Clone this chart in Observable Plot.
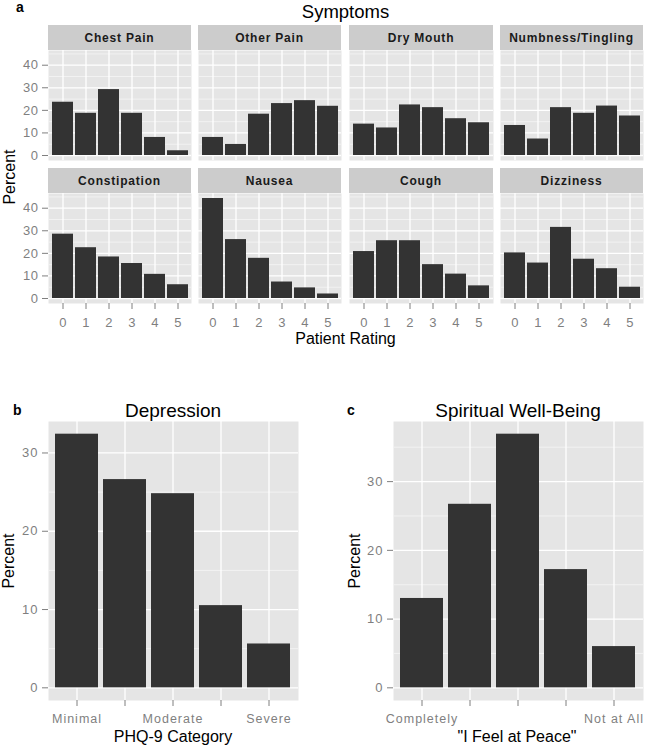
<!DOCTYPE html>
<html><head><meta charset="utf-8">
<script src="https://cdn.jsdelivr.net/npm/d3@7"></script>
<script src="https://cdn.jsdelivr.net/npm/@observablehq/plot@0.6"></script>
<style>
body{margin:0;background:#fff;font-family:"Liberation Sans",Arial,sans-serif;}
#root{position:relative;width:648px;height:750px;overflow:hidden;background:#fff;}
.lbl{position:absolute;white-space:nowrap;line-height:1;color:#000;}
.strip{position:absolute;background:#CCCCCC;color:#1a1a1a;font-weight:bold;font-size:12px;letter-spacing:0.8px;display:flex;align-items:center;justify-content:center;white-space:nowrap;}
.plt{position:absolute;}
.plt svg{overflow:visible;background:transparent;}
.plt text{letter-spacing:0.8px;}
</style></head><body><div id="root"></div>
<script>
// ---------- data ----------
const symptoms = ["Chest Pain","Other Pain","Dry Mouth","Numbness/Tingling","Constipation","Nausea","Cough","Dizziness"];
const ratings = [0,1,2,3,4,5];
const chestPain    = [23.6, 18.7, 29.2, 18.7, 8.0, 2.1];
const otherPain    = [8.0, 4.9, 18.3, 23.0, 24.3, 21.8];
const dryMouth     = [13.9, 12.2, 22.4, 21.2, 16.3, 14.5];
const numbness     = [13.3, 7.3, 21.2, 18.7, 21.9, 17.5];
const constipation = [28.5, 22.5, 18.4, 15.5, 10.7, 6.1];
const nausea       = [44.3, 26.1, 17.8, 7.3, 4.7, 2.0];
const cough        = [20.8, 25.6, 25.6, 15.0, 10.8, 5.6];
const dizziness    = [20.2, 15.7, 31.5, 17.4, 13.2, 5.0];
const symptomValues = [chestPain, otherPain, dryMouth, numbness, constipation, nausea, cough, dizziness];
const symptomYTicks = [0,10,20,30,40];
const symptomYMinor = [5,15,25,35,45];

const phqCategories = ["Minimal","Mild","Moderate","Moderately Severe","Severe"];
const phqTickLabels = ["Minimal","","Moderate","","Severe"];
const phqPercent = [32.4, 26.6, 24.8, 10.5, 5.6];

const peaceCategories = ["Completely","Quite a Bit","Somewhat","A Little Bit","Not at All"];
const peaceTickLabels = ["Completely","","","","Not at All"];
const peacePercent = [13.0, 26.7, 36.9, 17.2, 6.0];

const bottomYTicks = [0,10,20,30];
const bottomYMinor = [5,15,25,35];

// ---------- helpers ----------
const root = document.getElementById("root");
const FONT = "Liberation Sans, Arial, sans-serif";

function addText(txt, {x, baseline, size, anchor = "middle", bold = false, color = "#000", ls = 0}) {
  const d = document.createElement("div");
  d.className = "lbl";
  d.textContent = txt;
  d.style.fontSize = size + "px";
  d.style.fontWeight = bold ? "bold" : "normal";
  d.style.color = color;
  d.style.letterSpacing = ls + "px";
  d.style.top = (baseline - size * 0.8465) + "px";
  d.style.left = x + "px";
  if (anchor === "middle") d.style.transform = "translateX(-50%)";
  root.appendChild(d);
}
function addRotated(txt, {cx, cy, size}) {
  const d = document.createElement("div");
  d.className = "lbl";
  d.textContent = txt;
  d.style.fontSize = size + "px";
  d.style.left = cx + "px";
  d.style.top = cy + "px";
  d.style.transform = "translate(-50%,-50%) rotate(-90deg)";
  root.appendChild(d);
}
function addStrip(txt, left, top, w, h) {
  const d = document.createElement("div");
  d.className = "strip";
  d.textContent = txt;
  Object.assign(d.style, {left: left + "px", top: top + "px", width: w + "px", height: h + "px"});
  root.appendChild(d);
}

function panel({data, domain, yDomain, yTicks, yMinor, tickFormat, showX, showY, left, top, w, h, paddingOuter, xFont, xLs}) {
  const mL = showY ? 48 : 1, mB = showX ? 36 : 1, mT = 1, mR = 1;
  const marks = [
    Plot.frame({fill: "#E5E5E5", stroke: "none"}),
    Plot.ruleY(yMinor.filter(v => v >= yDomain[0] && v <= yDomain[1]), {stroke: "#F2F2F2", strokeWidth: 1}),
    Plot.ruleY(yTicks, {stroke: "#ffffff", strokeWidth: 1.3}),
    Plot.gridX({stroke: "#ffffff", strokeOpacity: 1, strokeWidth: 1.3}),
    Plot.barY(data, {x: "x", y: "y", fill: "#333333"})
  ];
  if (showY) marks.push(Plot.axisY({ticks: yTicks, tickSize: 6, tickPadding: 4, color: "#7f7f7f", fontSize: 13, label: null}));
  if (showX) marks.push(Plot.axisX({tickSize: 6, tickPadding: 8, color: "#7f7f7f", fontSize: xFont, label: null, tickFormat}));
  const svg = Plot.plot({
    width: w + mL + mR,
    height: h + mT + mB,
    marginLeft: mL, marginRight: mR, marginTop: mT, marginBottom: mB,
    style: {fontFamily: FONT, background: "transparent", overflow: "visible"},
    x: {type: "band", domain, paddingInner: 0.1, paddingOuter, axis: null},
    y: {domain: yDomain, axis: null},
    marks
  });
  const wrap = document.createElement("div");
  wrap.className = "plt";
  wrap.style.left = (left - mL) + "px";
  wrap.style.top = (top - mT) + "px";
  if (xLs != null) svg.querySelectorAll("text").forEach(t => t.style.letterSpacing = xLs + "px");
  wrap.appendChild(svg);
  root.appendChild(wrap);
}

// ---------- panel a: symptoms ----------
const colLeft = [48, 198, 349, 500];
const colW = [143, 143, 144, 143];
const stripTop = [25, 168];
const plotTop = [50, 193];
const plotH = 110;
const symMax = d3.max(symptomValues.flat());
const symDomain = [-0.05 * symMax, 1.05 * symMax];

symptoms.forEach((name, i) => {
  const row = Math.floor(i / 4), col = i % 4;
  addStrip(name, colLeft[col], stripTop[row], colW[col], 25);
  panel({
    data: ratings.map((r, j) => ({x: r, y: symptomValues[i][j]})),
    domain: ratings,
    yDomain: symDomain,
    yTicks: symptomYTicks,
    yMinor: symptomYMinor,
    tickFormat: d => String(d),
    showX: row === 1,
    showY: col === 0,
    left: colLeft[col], top: plotTop[row], w: colW[col], h: plotH,
    paddingOuter: 0.08, xFont: 13, xLs: 0.5
  });
});

addText("a", {x: 16, baseline: 12, size: 14, anchor: "start", bold: true});
addText("Symptoms", {x: 345.5, baseline: 19, size: 18.5});
addRotated("Percent", {cx: 10, cy: 176.5, size: 16});
addText("Patient Rating", {x: 345.5, baseline: 345, size: 16});

// ---------- panel b: depression ----------
const phqMax = d3.max(phqPercent);
panel({
  data: phqCategories.map((c, j) => ({x: c, y: phqPercent[j]})),
  domain: phqCategories,
  yDomain: [-0.05 * phqMax, 1.05 * phqMax],
  yTicks: bottomYTicks,
  yMinor: bottomYMinor,
  tickFormat: (d) => phqTickLabels[phqCategories.indexOf(d)],
  showX: true, showY: true,
  left: 48, top: 421, w: 250, h: 279,
  paddingOuter: 0.15, xFont: 12.5, xLs: 1
});
addText("b", {x: 13, baseline: 415, size: 14, anchor: "start", bold: true});
addText("Depression", {x: 173, baseline: 417, size: 19});
addRotated("Percent", {cx: 9, cy: 560.5, size: 16});
addText("PHQ-9 Category", {x: 173, baseline: 743, size: 16});

// ---------- panel c: spiritual well-being ----------
const peaceMax = d3.max(peacePercent);
panel({
  data: peaceCategories.map((c, j) => ({x: c, y: peacePercent[j]})),
  domain: peaceCategories,
  yDomain: [-0.05 * peaceMax, 1.05 * peaceMax],
  yTicks: bottomYTicks,
  yMinor: bottomYMinor,
  tickFormat: (d) => peaceTickLabels[peaceCategories.indexOf(d)],
  showX: true, showY: true,
  left: 393, top: 421, w: 250, h: 279,
  paddingOuter: 0.15, xFont: 12.5, xLs: 1
});
addText("c", {x: 347, baseline: 415, size: 14, anchor: "start", bold: true});
addText("Spiritual Well-Being", {x: 518, baseline: 417, size: 19});
addRotated("Percent", {cx: 355, cy: 560.5, size: 16});
addText("\"I Feel at Peace\"", {x: 517, baseline: 743, size: 16});
</script>
</body></html>
